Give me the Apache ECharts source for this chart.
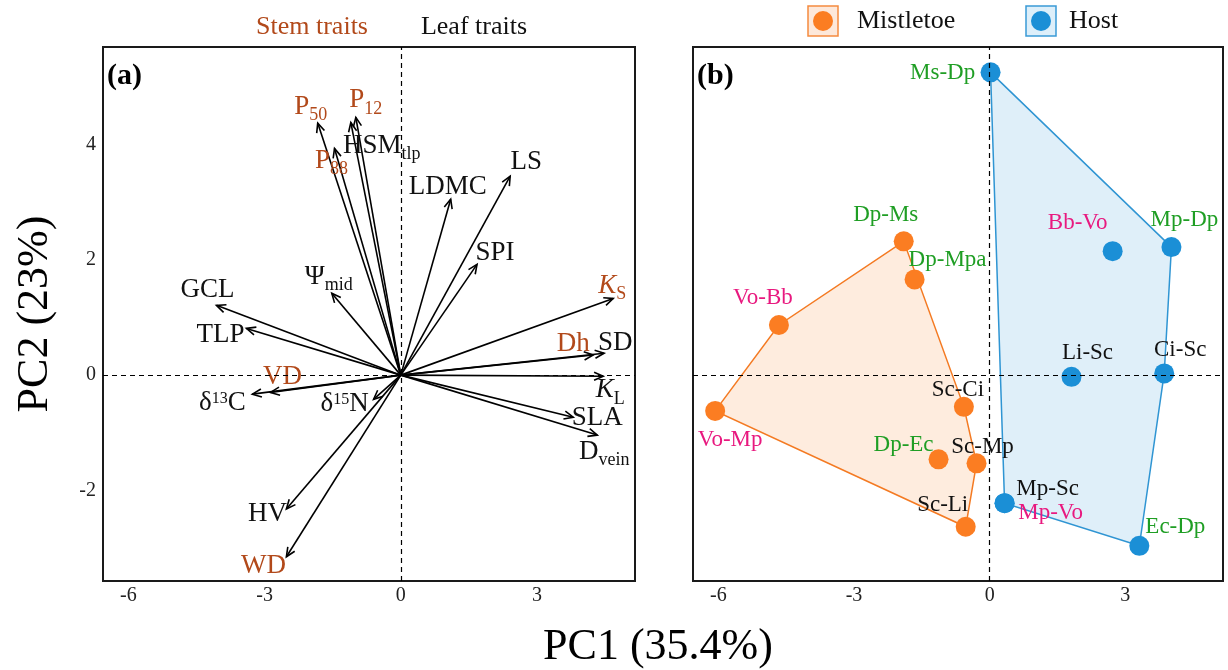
<!DOCTYPE html>
<html><head><meta charset="utf-8">
<script src="https://cdn.jsdelivr.net/npm/echarts@6/dist/echarts.min.js"></script>
<style>html,body{margin:0;padding:0;background:#fff}#c{width:1228px;height:670px}</style>
</head><body><div id="c"></div>
<script>
// ---------- Panel (a): trait loadings ----------
const traitKeys  = ['P50','P12','HSMtlp','P88','LDMC','LS','SPI','KS','GCL','TLP','Psimid','d13C','VD','d15N','Dh','SD','KL','SLA','Dvein','HV','WD'];
const traitPC1   = [-1.83,-0.99,-1.10,-1.46, 1.10, 2.41, 1.68, 4.68,-4.06,-3.40,-1.52,-3.27,-2.87,-0.60, 4.24, 4.48, 4.46, 3.80, 4.33,-2.52,-2.52];
const traitPC2   = [ 4.37, 4.47, 4.38, 3.93, 3.05, 3.45, 1.92, 1.33, 1.21, 0.81, 1.42,-0.33,-0.30,-0.42, 0.35, 0.38,-0.02,-0.73,-1.04,-2.32,-3.15];
const traitType  = ['Stem','Stem','Leaf','Stem','Leaf','Leaf','Leaf','Stem','Leaf','Leaf','Leaf','Leaf','Stem','Leaf','Stem','Leaf','Leaf','Leaf','Leaf','Leaf','Stem'];
const traitLabels = ['{n|P}{sub|50}','{n|P}{sub|12}','{n|HSM}{sub|tlp}','{n|P}{sub|88}','{n|LDMC}','{n|LS}','{n|SPI}','{it|K}{sub|S}','{n|GCL}','{n|TLP}','{n|Ψ}{sub|mid}','{n|δ}{sup|13}{n|C}','{n|VD}','{n|δ}{sup|15}{n|N}','{n|Dh}','{n|SD}','{it|K}{sub|L}','{n|SLA}','{n|D}{sub|vein}','{n|HV}','{n|WD}'];
const traitTypeNames = ['Stem traits','Leaf traits'];

// ---------- Panel (b): species-pair scores ----------
const mistNames = ['Dp-Ms','Dp-Mpa','Vo-Bb','Vo-Mp','Sc-Ci','Dp-Ec','Sc-Mp','Sc-Li'];
const mistPC1   = [-1.90,-1.66,-4.66,-6.07,-0.57,-1.13,-0.29,-0.53];
const mistPC2   = [ 2.32, 1.66, 0.87,-0.62,-0.55,-1.46,-1.53,-2.63];
const mistGroup = ['Dp','Dp','Vo','Vo','Sc','Dp','Sc','Sc'];
const hostNames = ['Ms-Dp','Bb-Vo','Mp-Dp','Li-Sc','Ci-Sc','Mp-Sc','Mp-Vo','Ec-Dp'];
const hostPC1   = [0.02, 2.72, 4.02, 1.81, 3.86, 0.33, 0.33, 3.31];
const hostPC2   = [5.25, 2.15, 2.22,-0.03, 0.03,-2.22,-2.22,-2.96];
const hostGroup = ['Dp','Vo','Dp','Sc','Sc','Sc','Vo','Dp'];
const mistHull  = ['Vo-Mp','Vo-Bb','Dp-Ms','Sc-Ci','Sc-Mp','Sc-Li'];
const hostHull  = ['Ms-Dp','Mp-Dp','Ci-Sc','Ec-Dp','Mp-Sc'];
const groupNames = ['Mistletoe','Host'];

// ---------- axes ----------
const xTicks = [-6,-3,0,3];
const yTicks = [-2,0,2,4];
const axisTitleX = 'PC1 (35.4%)';
const axisTitleY = 'PC2 (23%)';
const panelTags = ['(a)','(b)'];

// ---------- layout / style (not data) ----------
const FONT = '"Liberation Serif","Times New Roman",serif';
const STEM = '#b2491a', BLACK = '#111';
const ORANGE = '#fb7d22', BLUE = '#1b8fd6';
const groupColor = {Dp:'#1f9e24', Vo:'#e8197f', Sc:'#111'};
const arrowLabelOffset = {
  P50:[-7,-16], P12:[10,-17], HSMtlp:[31,23], P88:[-3,12], LDMC:[-3,-12], LS:[16,-14], SPI:[18,-11],
  KS:[-1,-13], GCL:[-9,-15], TLP:[-26,6], Psimid:[-3,-16], d13C:[-30,9], VD:[12,-16], d15N:[-29,5],
  Dh:[-20,-11], SD:[11,-10], KL:[7,14], SLA:[24,1], Dvein:[7,17], HV:[-19,5], WD:[-23,9]
};
const pointLabelOffset = {
  'Dp-Ms':[-18,-26], 'Dp-Mpa':[33,-19], 'Vo-Bb':[-16,-27], 'Vo-Mp':[15,29], 'Sc-Ci':[-6,-17],
  'Dp-Ec':[-35,-14], 'Sc-Mp':[6,-16], 'Sc-Li':[-23,-22],
  'Ms-Dp':[-48,1], 'Bb-Vo':[-35,-28], 'Mp-Dp':[13,-27], 'Li-Sc':[16,-24], 'Ci-Sc':[16,-23],
  'Mp-Sc':[43,-14], 'Mp-Vo':[46,10], 'Ec-Dp':[36,-19]
};
const rich = {
  n:  {fontFamily:FONT, fontSize:27, lineHeight:27, verticalAlign:'top'},
  it: {fontFamily:FONT, fontSize:27, lineHeight:27, verticalAlign:'top', fontStyle:'italic'},
  sub:{fontFamily:FONT, fontSize:18, lineHeight:18, verticalAlign:'top', padding:[13,0,0,0]},
  sup:{fontFamily:FONT, fontSize:16, lineHeight:16, verticalAlign:'top', padding:[1,0,0,0]}
};
const X_MIN = -6.56, X_MAX = 5.16, Y_MIN = -3.57, Y_MAX = 5.69;

function renderArrow(params, api){
  const i = params.dataIndex;
  const o = api.coord([0,0]);
  const p = api.coord([api.value(0), api.value(1)]);
  const ang = Math.atan2(p[1]-o[1], p[0]-o[0]);
  const L = 10, a = 0.42;
  const h1 = [p[0]-L*Math.cos(ang-a), p[1]-L*Math.sin(ang-a)];
  const h2 = [p[0]-L*Math.cos(ang+a), p[1]-L*Math.sin(ang+a)];
  const off = arrowLabelOffset[traitKeys[i]] || [0,0];
  const col = traitType[i]==='Stem' ? STEM : BLACK;
  return {type:'group', children:[
    {type:'line', shape:{x1:o[0],y1:o[1],x2:p[0],y2:p[1]}, style:{stroke:'#000', lineWidth:1.6}},
    {type:'polyline', shape:{points:[h1,p,h2]}, style:{stroke:'#000', lineWidth:1.6, fill:null}},
    {type:'text', x:p[0]+off[0], y:p[1]+off[1], z2:10,
      style:{text:traitLabels[i], rich:rich, fill:col, align:'center', verticalAlign:'middle', fontFamily:FONT, fontSize:27}}
  ]};
}

function hullRenderer(names, xs, ys, allNames, fill, stroke){
  return function(params, api){
    if (params.dataIndex !== 0) return null;
    const pts = names.map(n => { const k = allNames.indexOf(n); return api.coord([xs[k], ys[k]]); });
    return {type:'polygon', shape:{points:pts}, style:{fill:fill, stroke:stroke, lineWidth:1.5}};
  };
}

function pointData(names, xs, ys, groups){
  return names.map((n,i)=>({name:n, value:[xs[i], ys[i]],
    label:{offset:pointLabelOffset[n]||[0,0], color:groupColor[groups[i]]}}));
}

const zeroLines = {silent:true, symbol:['none','none'], label:{show:false},
  lineStyle:{type:[5,4], color:'#000', width:1.2}, emphasis:{disabled:true},
  data:[{xAxis:0},{yAxis:0}]};

const axisX = (gi) => ({type:'value', gridIndex:gi, min:X_MIN, max:X_MAX,
  axisLine:{show:false}, axisTick:{show:false}, splitLine:{show:false},
  axisLabel:{customValues:xTicks, margin:5, fontFamily:FONT, fontSize:20, color:'#222'}});
const axisY = (gi, show) => ({type:'value', gridIndex:gi, min:Y_MIN, max:Y_MAX,
  axisLine:{show:false}, axisTick:{show:false}, splitLine:{show:false},
  axisLabel:{show:show, customValues:yTicks, margin:7, fontFamily:FONT, fontSize:20, color:'#222'}});

const chart = echarts.init(document.getElementById('c'), null, {renderer:'canvas'});
chart.setOption({
  animation:false,
  backgroundColor:'#fff',
  grid:[
    {left:103, top:47, width:532, height:534, show:true, borderColor:'#1a1a1a', borderWidth:2, backgroundColor:'transparent'},
    {left:693, top:47, width:530, height:534, show:true, borderColor:'#1a1a1a', borderWidth:2, backgroundColor:'transparent'}
  ],
  xAxis:[axisX(0), axisX(1)],
  yAxis:[axisY(0,true), axisY(1,false)],
  legend:[
    {data:[groupNames[0]], left:813, top:8, padding:0, icon:'circle', itemWidth:20, itemHeight:20, selectedMode:false,
      textStyle:{fontFamily:FONT, fontSize:26, lineHeight:26, color:'#111', padding:[0,0,0,19]}},
    {data:[groupNames[1]], left:1031, top:8, padding:0, icon:'circle', itemWidth:20, itemHeight:20, selectedMode:false,
      textStyle:{fontFamily:FONT, fontSize:26, lineHeight:26, color:'#111', padding:[0,0,0,13]}}
  ],
  graphic:[
    {type:'rect', z:0, shape:{x:808,y:6,width:30,height:30}, style:{fill:'#fde8da', stroke:'#f58b3f', lineWidth:1.5}},
    {type:'rect', z:0, shape:{x:1026,y:6,width:30,height:30}, style:{fill:'#ddeffa', stroke:'#3a9ad6', lineWidth:1.5}},
    {type:'text', x:312, y:27, style:{text:traitTypeNames[0], fill:STEM, font:'26px '+FONT, align:'center', verticalAlign:'middle'}},
    {type:'text', x:474, y:27, style:{text:traitTypeNames[1], fill:BLACK, font:'26px '+FONT, align:'center', verticalAlign:'middle'}},
    {type:'text', x:107, y:76, style:{text:panelTags[0], fill:'#000', font:'bold 30px '+FONT, align:'left', verticalAlign:'middle'}},
    {type:'text', x:697, y:76, style:{text:panelTags[1], fill:'#000', font:'bold 30px '+FONT, align:'left', verticalAlign:'middle'}},
    {type:'text', x:658, y:647, style:{text:axisTitleX, fill:'#000', font:'44px '+FONT, align:'center', verticalAlign:'middle'}},
    {type:'text', x:35, y:314, rotation:Math.PI/2, style:{text:axisTitleY, fill:'#000', font:'44px '+FONT, align:'center', verticalAlign:'middle'}}
  ],
  series:[
    {type:'scatter', xAxisIndex:0, yAxisIndex:0, data:[], markLine:zeroLines, silent:true},
    {type:'custom', name:'Loadings', xAxisIndex:0, yAxisIndex:0, renderItem:renderArrow, silent:true, z:3,
      data:traitPC1.map((x,i)=>[x, traitPC2[i]])},
    {type:'custom', xAxisIndex:1, yAxisIndex:1, silent:true, z:1,
      renderItem:hullRenderer(mistHull, mistPC1, mistPC2, mistNames, 'rgba(251,125,34,0.15)', '#f47a22'),
      data:mistHull.map(n=>{const k=mistNames.indexOf(n); return [mistPC1[k], mistPC2[k]];})},
    {type:'custom', xAxisIndex:1, yAxisIndex:1, silent:true, z:1,
      renderItem:hullRenderer(hostHull, hostPC1, hostPC2, hostNames, 'rgba(30,145,215,0.14)', '#2f95d3'),
      data:hostHull.map(n=>{const k=hostNames.indexOf(n); return [hostPC1[k], hostPC2[k]];})},
    {type:'scatter', xAxisIndex:1, yAxisIndex:1, data:[], markLine:zeroLines, silent:true},
    {name:groupNames[0], type:'scatter', xAxisIndex:1, yAxisIndex:1, symbolSize:20, z:3,
      itemStyle:{color:ORANGE, opacity:1}, emphasis:{disabled:true},
      label:{show:true, position:'inside', formatter:p=>p.name, fontFamily:FONT, fontSize:23, textBorderWidth:0},
      data:pointData(mistNames, mistPC1, mistPC2, mistGroup)},
    {name:groupNames[1], type:'scatter', xAxisIndex:1, yAxisIndex:1, symbolSize:20, z:3,
      itemStyle:{color:BLUE, opacity:1}, emphasis:{disabled:true},
      label:{show:true, position:'inside', formatter:p=>p.name, fontFamily:FONT, fontSize:23, textBorderWidth:0},
      data:pointData(hostNames, hostPC1, hostPC2, hostGroup)}
  ]
});
</script>
</body></html>
